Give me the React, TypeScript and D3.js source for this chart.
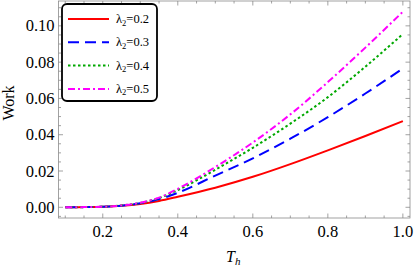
import * as d3 from "d3";
import React from "react";

// temperatures on the x axis
const th = [0.1, 0.15, 0.2, 0.25, 0.3, 0.35, 0.4, 0.5, 0.6, 0.7, 0.8, 0.9, 1.0];
const work02 = [0, 0.0001, 0.0003, 0.0008, 0.0018, 0.0035, 0.0058, 0.0108, 0.0168, 0.0238, 0.0314, 0.0393, 0.0475];
const work03 = [0, 0.0001, 0.0003, 0.0009, 0.0022, 0.0045, 0.008, 0.0175, 0.027, 0.0378, 0.0497, 0.0627, 0.0765];
const work04 = [0, 0.0001, 0.0003, 0.001, 0.0024, 0.0051, 0.0095, 0.0207, 0.0328, 0.0461, 0.0607, 0.0775, 0.0955];
const work05 = [0, 0.0001, 0.0003, 0.001, 0.0025, 0.0053, 0.0102, 0.0222, 0.0357, 0.0512, 0.069, 0.088, 0.1078];
const lambdas = ["0.2", "0.3", "0.4", "0.5"];
const xTicks = [0.2, 0.4, 0.6, 0.8, 1.0];
const yTicks = [0, 0.02, 0.04, 0.06, 0.08, 0.1];

const series = [
  { values: work02, color: "#ff0000", dash: null },
  { values: work03, color: "#0000ff", dash: "11,6" },
  { values: work04, color: "#00a800", dash: "2.5,2.5" },
  { values: work05, color: "#ff00ff", dash: "7,3,2,3" },
];

const width = 415;
const height = 268;
const frame = { left: 58.5, right: 410, top: 1, bottom: 218 };
const font = "'Liberation Serif', 'Times New Roman', serif";

export default function App() {
  const x = d3.scaleLinear().domain([0.082, 1.019]).range([frame.left, frame.right]);
  const y = d3.scaleLinear().domain([-0.0059, 0.1137]).range([frame.bottom, frame.top]);

  const line = d3
    .line<number>()
    .x((d, i) => x(th[i]))
    .y((d) => y(d))
    .curve(d3.curveMonotoneX);

  const xMinor = d3.range(0.1, 1.01, 0.05).filter((v) => Math.abs(v * 5 - Math.round(v * 5)) > 1e-6);
  const yMinor = d3.range(-0.005, 0.112, 0.005).filter((v) => Math.abs(v * 50 - Math.round(v * 50)) > 1e-6);

  const tickColor = "#8a8a8a";
  const major = 4.5;
  const minor = 2.5;

  return (
    <svg width={width} height={height} style={{ position: "absolute", left: 0, top: 0, background: "#fff" }}>
      <g stroke={tickColor} strokeWidth={0.8}>
        {xTicks.map((v) => (
          <g key={"xt" + v}>
            <line x1={x(v)} x2={x(v)} y1={frame.bottom} y2={frame.bottom - major} />
            <line x1={x(v)} x2={x(v)} y1={frame.top} y2={frame.top + major} />
          </g>
        ))}
        {xMinor.map((v) => (
          <g key={"xm" + v}>
            <line x1={x(v)} x2={x(v)} y1={frame.bottom} y2={frame.bottom - minor} />
            <line x1={x(v)} x2={x(v)} y1={frame.top} y2={frame.top + minor} />
          </g>
        ))}
        {yTicks.map((v) => (
          <g key={"yt" + v}>
            <line x1={frame.left} x2={frame.left + major} y1={y(v)} y2={y(v)} />
            <line x1={frame.right} x2={frame.right - major} y1={y(v)} y2={y(v)} />
          </g>
        ))}
        {yMinor.map((v) => (
          <g key={"ym" + v}>
            <line x1={frame.left} x2={frame.left + minor} y1={y(v)} y2={y(v)} />
            <line x1={frame.right} x2={frame.right - minor} y1={y(v)} y2={y(v)} />
          </g>
        ))}
        <rect
          x={frame.left}
          y={frame.top}
          width={frame.right - frame.left}
          height={frame.bottom - frame.top}
          fill="none"
        />
      </g>

      <g fontFamily={font} fontSize={16.5} fill="#000">
        {xTicks.map((v) => (
          <text key={"xl" + v} x={x(v)} y={237} textAnchor="middle">
            {v.toFixed(1)}
          </text>
        ))}
        {yTicks.map((v) => (
          <text key={"yl" + v} x={54.5} y={y(v) + 5.5} textAnchor="end">
            {v.toFixed(2)}
          </text>
        ))}
        <text transform="translate(14,103) rotate(-90)" textAnchor="middle" fontSize={16}>
          Work
        </text>
        <text x={226} y={262} fontStyle="italic" fontSize={16}>
          T<tspan fontSize={11} dy={3}>h</tspan>
        </text>
      </g>

      <g fill="none" strokeWidth={2}>
        {series.map((s, i) => (
          <path key={i} d={line(s.values) ?? ""} stroke={s.color} strokeDasharray={s.dash ?? undefined} />
        ))}
      </g>

      <g>
        <rect x={62} y={4} width={95} height={97} rx={5} fill="#fff" stroke="#000" strokeWidth={1.8} />
        {series.map((s, i) => {
          const ly = 19 + i * 23.3;
          return (
            <g key={"lg" + i}>
              <line x1={68} x2={109} y1={ly} y2={ly} stroke={s.color} strokeWidth={2} strokeDasharray={s.dash ?? undefined} />
              <text x={116} y={ly + 4} fontFamily={font} fontSize={12.5} fill="#000">
                λ<tspan fontSize={8.5} dy={2.5}>2</tspan>
                <tspan dy={-2.5}>={lambdas[i]}</tspan>
              </text>
            </g>
          );
        })}
      </g>
    </svg>
  );
}
